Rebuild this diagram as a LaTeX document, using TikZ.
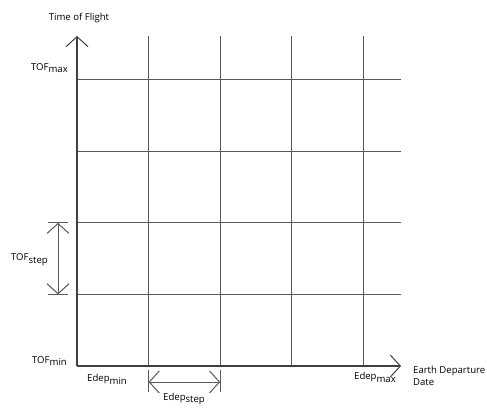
\documentclass[tikz,border=0pt]{standalone}
\usepackage{fontspec}
\setmainfont{Open Sans}
\usetikzlibrary{calc, positioning}
\usetikzlibrary{arrows.meta}

\newcommand{\lowtxt}[2]{#1\raisebox{-0.55ex}{#2}}

\begin{document}
\begin{tikzpicture}[x=1bp, y=-1bp, font=\fontsize{9.6}{12}\selectfont]
\def\xo{77}
\def\yo{366}
\def\xend{401}
\def\ytop{36}
\def\gstep{71.6}
\tikzset{
  gridline/.style={draw=black!65, line width=1bp},
  axisline/.style={draw=black!75, line width=1.1bp},
  openhead/.tip={Straight Barb[length=10bp, width=22bp, line width=1bp]},
}
\fill[white] (0,0) rectangle (487,408);

\coordinate (O) at (\xo,\yo);
\coordinate (Ytip) at (\xo,\ytop);
\coordinate (Xtip) at (\xend,\yo);
\coordinate (V1) at ($(O)+(\gstep,0)$);
\coordinate (V2) at ($(O)+(2*\gstep,0)$);
\coordinate (H1) at ($(O)+(0,-\gstep)$);
\coordinate (H2) at ($(O)+(0,-2*\gstep)$);

% grid
\draw[gridline] (V1) -- (V1 |- Ytip);
\draw[gridline] (V2) -- (V2 |- Ytip);
\draw[gridline] ($(O)+(3*\gstep,0)$) -- ++(0,-\yo+\ytop);
\draw[gridline] ($(O)+(4*\gstep,0)$) -- ++(0,-\yo+\ytop);
\draw[gridline] (H1) -- (H1 -| Xtip);
\draw[gridline] (H2) -- (H2 -| Xtip);
\draw[gridline] ($(O)+(0,-3*\gstep)$) -- ++(\xend-\xo,0);
\draw[gridline] ($(O)+(0,-4*\gstep)$) -- ++(\xend-\xo,0);

% axes
\draw[axisline, -openhead] (O) -- (Ytip);
\draw[axisline, -openhead] (O) -- (Xtip);

% step markers
\draw[gridline] ($(H1)+(-29,0)$) -- ++(20,0);
\draw[gridline] ($(H2)+(-29,0)$) -- ++(20,0);
\draw[gridline, openhead-openhead] ($(H1)+(-19,0)$) -- ($(H2)+(-19,0)$);
\draw[gridline] ($(V1)+(0,4)$) -- ++(0,22);
\draw[gridline] ($(V2)+(0,4)$) -- ++(0,22);
\draw[gridline, openhead-openhead] ($(V1)+(0,16)$) -- ($(V2)+(0,16)$);

% labels
\node (yaxis) at (79,18) {Time of Flight};
\node[anchor=east, inner sep=0pt] (tofmax) at (68,68) {\lowtxt{TOF}{max}};
\node[anchor=east, inner sep=0pt] (tofstep) at (48,260) {\lowtxt{TOF}{step}};
\node[anchor=east, inner sep=0pt] (tofmin) at (67,361) {\lowtxt{TOF}{min}};
\node (edepmin) at (107,379) {\lowtxt{Edep}{min}};
\node (edepstep) at (184,399) {\lowtxt{Edep}{step}};
\node (edepmax) at (375,377) {\lowtxt{Edep}{max}};
\node[anchor=west, align=left, inner sep=0pt] (xaxis) at (413,376) {Earth Departure\\Date};
\end{tikzpicture}
\end{document}
